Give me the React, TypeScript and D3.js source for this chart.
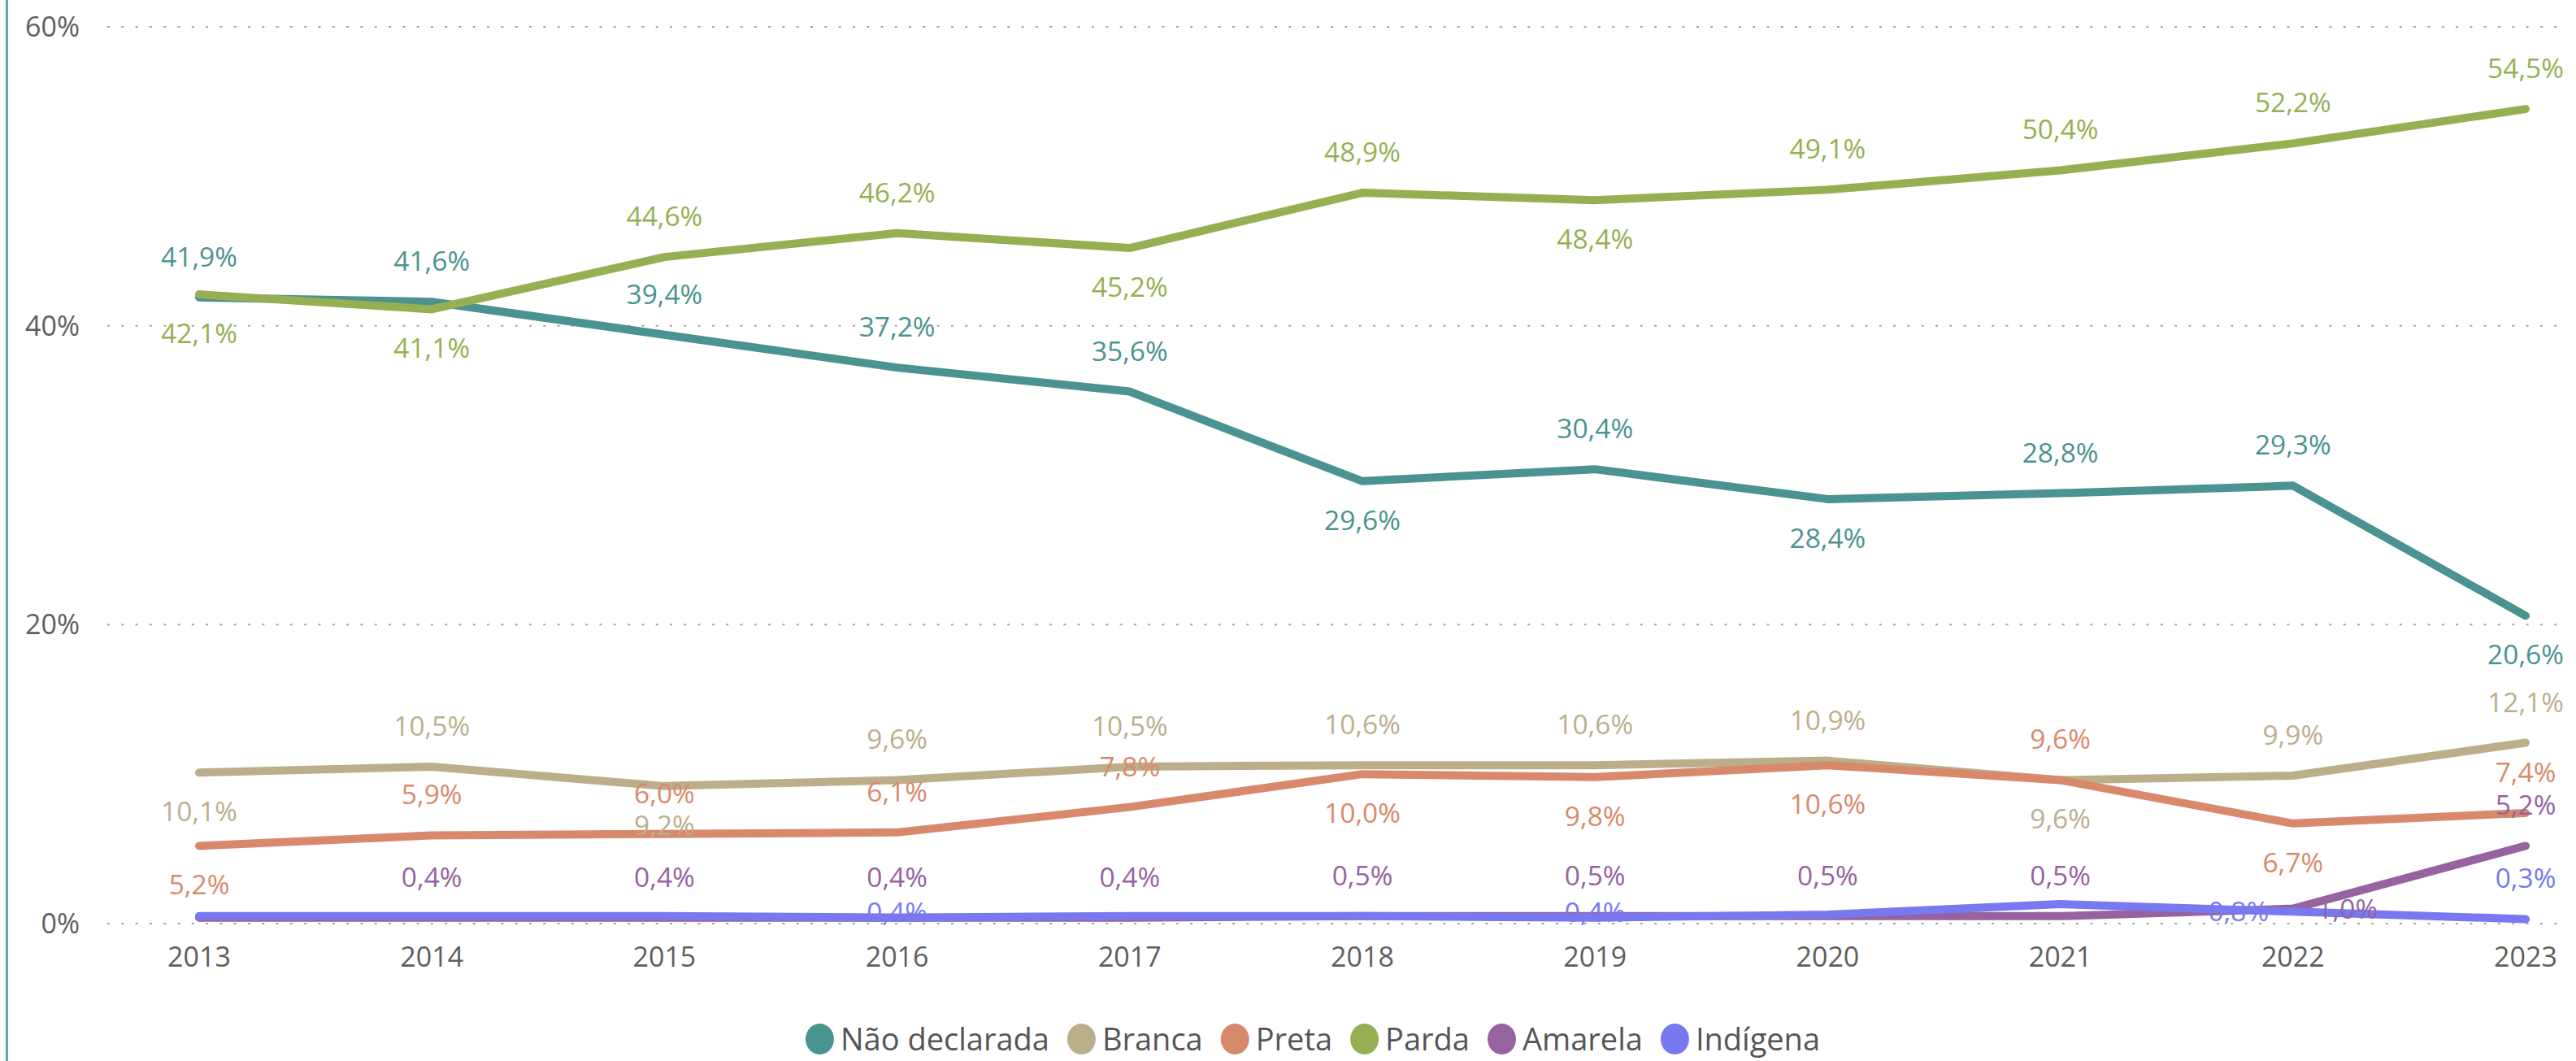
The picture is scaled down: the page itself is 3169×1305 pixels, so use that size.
import React from "react";
import * as d3 from "d3";

// ---------- data ----------
const YEARS = ["2013", "2014", "2015", "2016", "2017", "2018", "2019", "2020", "2021", "2022", "2023"];
const SERIES_NAMES = ["Não declarada", "Branca", "Preta", "Parda", "Amarela", "Indígena"];
const NAO_DECLARADA = [41.9, 41.6, 39.4, 37.2, 35.6, 29.6, 30.4, 28.4, 28.8, 29.3, 20.6];
const BRANCA = [10.1, 10.5, 9.2, 9.6, 10.5, 10.6, 10.6, 10.9, 9.6, 9.9, 12.1];
const PRETA = [5.2, 5.9, 6.0, 6.1, 7.8, 10.0, 9.8, 10.6, 9.6, 6.7, 7.4];
const PARDA = [42.1, 41.1, 44.6, 46.2, 45.2, 48.9, 48.4, 49.1, 50.4, 52.2, 54.5];
const AMARELA = [0.4, 0.4, 0.4, 0.4, 0.4, 0.5, 0.5, 0.5, 0.5, 1.0, 5.2];
const INDIGENA = [0.5, 0.5, 0.5, 0.4, 0.5, 0.5, 0.4, 0.6, 1.3, 0.8, 0.3];
const Y_TICKS = [0, 20, 40, 60];

// label placement codes: a = above, b = below, l = left, r = right, i = inside bottom, n = none
const LABELS_NAO = ["a", "a", "a", "a", "a", "b", "a", "b", "a", "a", "b"];
const LABELS_BRANCA = ["b", "a", "b", "a", "a", "a", "a", "a", "b", "a", "a"];
const LABELS_PRETA = ["b", "a", "a", "a", "a", "b", "b", "b", "a", "b", "a"];
const LABELS_PARDA = ["b", "b", "a", "a", "b", "a", "b", "a", "a", "a", "a"];
const LABELS_AMARELA = ["n", "a", "a", "a", "a", "a", "a", "a", "a", "r", "a"];
const LABELS_INDIGENA = ["n", "n", "n", "i", "n", "n", "i", "n", "n", "l", "a"];

const COLORS = ["#4A9391", "#BBAF8B", "#D9896B", "#96AF53", "#9662A0", "#7878F0"];

const SERIES = [
  { name: SERIES_NAMES[0], values: NAO_DECLARADA, labels: LABELS_NAO, color: COLORS[0] },
  { name: SERIES_NAMES[1], values: BRANCA, labels: LABELS_BRANCA, color: COLORS[1] },
  { name: SERIES_NAMES[2], values: PRETA, labels: LABELS_PRETA, color: COLORS[2] },
  { name: SERIES_NAMES[3], values: PARDA, labels: LABELS_PARDA, color: COLORS[3] },
  { name: SERIES_NAMES[4], values: AMARELA, labels: LABELS_AMARELA, color: COLORS[4] },
  { name: SERIES_NAMES[5], values: INDIGENA, labels: LABELS_INDIGENA, color: COLORS[5] },
];

// ---------- layout ----------
const W = 3169;
const H = 1305;
const FONT = "'Segoe UI', 'Open Sans', sans-serif";
const AXIS_FS = 34;
const LABEL_FS = 33.5;
const LEGEND_FS = 38;
const OFFSETS: Record<string, { dx: number; dy: number }> = {
  a: { dx: 0, dy: -50 },
  b: { dx: 0, dy: 48 },
  l: { dx: -67, dy: 0 },
  r: { dx: 67, dy: 0 },
  i: { dx: 0, dy: -7 },
};

const fmt = (v: number) => d3.format(".1f")(v).replace(".", ",") + "%";

function measure(text: string, fs: number): number {
  const c = document.createElement("canvas").getContext("2d");
  if (!c) return text.length * fs * 0.55;
  c.font = `${fs}px 'Open Sans', sans-serif`;
  return c.measureText(text).width;
}

export default function App() {
  const x = d3.scalePoint<string>().domain(YEARS).range([245, 3107]);
  const y = d3.scaleLinear().domain([0, 60]).range([1136, 33]);
  const gridX0 = 132;
  const gridX1 = 3155;

  const line = d3
    .line<number>()
    .x((_, i) => x(YEARS[i]) as number)
    .y((d) => y(d))
    .curve(d3.curveLinear);

  // legend layout
  const dotR = 17.5;
  const dotGap = 8;
  const itemGap = 22;
  const items = SERIES.map((s) => ({ ...s, w: measure(s.name, LEGEND_FS) }));
  const totalW = items.reduce((acc, it) => acc + dotR * 2 + dotGap + it.w, 0) + itemGap * (items.length - 1);
  let cursor = 1615 - totalW / 2;
  const legendItems = items.map((it) => {
    const pos = cursor;
    cursor += dotR * 2 + dotGap + it.w + itemGap;
    return { ...it, x: pos };
  });
  const legendY = 1278;

  return (
    <svg
      width={W}
      height={H}
      viewBox={`0 0 ${W} ${H}`}
      style={{ position: "fixed", left: 0, top: 0, display: "block", background: "#fff" }}
      fontFamily={FONT}
    >
      <rect x={0} y={0} width={W} height={H} fill="#fff" />
      {/* left border */}
      <line x1={8.5} x2={8.5} y1={0} y2={H} stroke="#4A9391" strokeWidth={2.5} />

      {/* grid + y labels */}
      {Y_TICKS.map((t) => (
        <g key={t}>
          <line
            x1={gridX0}
            x2={gridX1}
            y1={y(t)}
            y2={y(t)}
            stroke="#a3a3a3"
            strokeWidth={2}
            strokeDasharray="3 14.3"
          />
          <text
            x={98}
            y={y(t) + AXIS_FS * 0.357}
            textAnchor="end"
            fontSize={AXIS_FS}
            fill="#605E5C"
          >
            {t}%
          </text>
        </g>
      ))}

      {/* x labels */}
      {YEARS.map((yr) => (
        <text
          key={yr}
          x={x(yr)}
          y={1177 + AXIS_FS * 0.357}
          textAnchor="middle"
          fontSize={AXIS_FS}
          fill="#605E5C"
        >
          {yr}
        </text>
      ))}

      {/* lines */}
      {SERIES.map((s) => (
        <path
          key={s.name}
          d={line(s.values) || ""}
          fill="none"
          stroke={s.color}
          strokeWidth={10}
          strokeLinecap="round"
          strokeLinejoin="round"
        />
      ))}

      {/* data labels */}
      {SERIES.map((s) =>
        s.values.map((v, i) => {
          const code = s.labels[i];
          const off = OFFSETS[code];
          if (!off) return null;
          const cx = (x(YEARS[i]) as number) + off.dx;
          const cy = y(v) + off.dy;
          return (
            <text
              key={s.name + i}
              x={cx}
              y={cy + LABEL_FS * 0.357}
              textAnchor="middle"
              fontSize={LABEL_FS}
              fill={s.color}
            >
              {fmt(v)}
            </text>
          );
        })
      )}

      {/* legend */}
      {legendItems.map((it) => (
        <g key={it.name}>
          <ellipse cx={it.x + dotR} cy={legendY} rx={dotR} ry={dotR + 1.5} fill={it.color} />
          <text
            x={it.x + dotR * 2 + dotGap}
            y={legendY + LEGEND_FS * 0.357}
            fontSize={LEGEND_FS}
            fill="#555"
          >
            {it.name}
          </text>
        </g>
      ))}
    </svg>
  );
}
